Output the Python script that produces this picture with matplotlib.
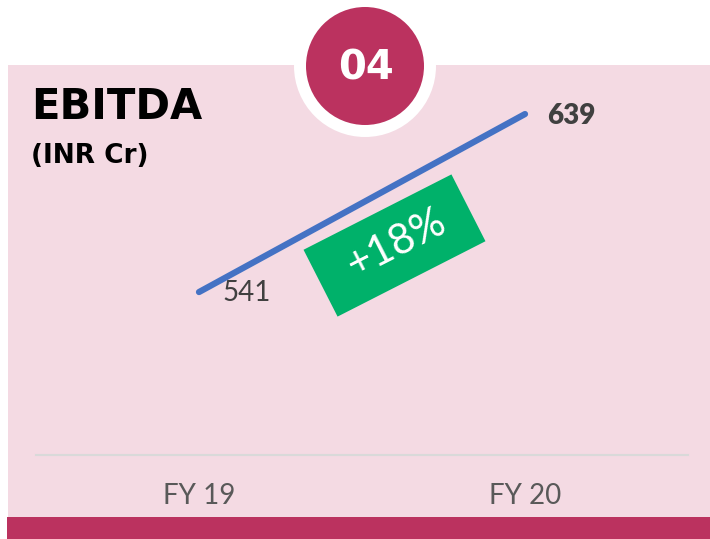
import numpy as np
import matplotlib
matplotlib.use("Agg")
from matplotlib import pyplot as plt
from matplotlib.patches import Rectangle, Circle, Polygon

# ---------- donnees ----------
years = ["FY 19", "FY 20"]
ebitda = [541, 639]
title = "EBITDA"
unit = "(INR Cr)"
badge = "04"

pink = "#F4DAE3"
crimson = "#BB325F"
blue = "#4472C4"
green = "#00B16A"

W, H = 710, 539
fig = plt.figure(figsize=(W / 100, H / 100), dpi=100)
fig.patch.set_facecolor("white")

# ---------- decor en pixels ----------
bg = fig.add_axes([0, 0, 1, 1], zorder=0)
bg.set_xlim(0, W)
bg.set_ylim(H, 0)
bg.axis("off")
bg.add_patch(Rectangle((8, 65), W - 8, 452, color=pink, lw=0))
bg.add_patch(Rectangle((7, 517), W - 7, 22, color=crimson, lw=0))
bg.add_patch(Circle((365, 66), 71, color="white", lw=0))
bg.add_patch(Circle((365, 66), 59, color=crimson, lw=0))
bg.text(366, 68, badge, color="white", fontsize=29, fontweight="bold",
        family="DejaVu Sans", ha="center", va="center")
bg.text(31, 119, title, color="black", fontsize=30, fontweight="bold",
        family="DejaVu Sans", ha="left", va="baseline")
bg.text(31, 163, unit, color="black", fontsize=19, fontweight="bold",
        family="DejaVu Sans", ha="left", va="baseline")

# boite verte tournee
ang = np.deg2rad(27)
c = np.array([394.5, 245.5])
u = np.array([np.cos(ang), -np.sin(ang)])
v = np.array([np.sin(ang), np.cos(ang)])
L, h = 166, 75
corners = [c - L / 2 * u - h / 2 * v, c + L / 2 * u - h / 2 * v,
           c + L / 2 * u + h / 2 * v, c - L / 2 * u + h / 2 * v]
bg.add_patch(Polygon(corners, closed=True, color=green, lw=0))
growth = (ebitda[1] / ebitda[0] - 1) * 100
bg.text(c[0] + 2, c[1] - 2, "+%d%%" % round(growth), color="white", fontsize=30,
        fontweight="normal", family="Lato", rotation=27, rotation_mode="anchor",
        ha="center", va="center")

# ---------- le graphe ----------
ax = fig.add_axes([36 / W, (H - 455) / H, 652 / W, 390 / H], zorder=1)
ax.patch.set_alpha(0)
x = np.arange(len(years))
ax.plot(x, ebitda, color=blue, lw=4.5, solid_capstyle="round")
ax.set_xlim(-0.5, 1.5)
ax.set_ylim(451.3, 666)
for s in ["top", "left", "right"]:
    ax.spines[s].set_visible(False)
ax.spines["bottom"].set_color("#D9D9D9")
ax.spines["bottom"].set_linewidth(1.5)
ax.set_yticks([])
ax.set_xticks(x)
ax.set_xticklabels(years, fontsize=20, color="#595959", family="Lato")
ax.tick_params(axis="x", length=0, pad=20)

ax.annotate(str(ebitda[0]), (x[0], ebitda[0]), xytext=(34.5, -1),
            textcoords="offset points", ha="center", va="center",
            fontsize=20, color="#404040", family="Lato")
ax.annotate(str(ebitda[1]), (x[1], ebitda[1]), xytext=(33, -1.5),
            textcoords="offset points", ha="center", va="center",
            fontsize=20, color="#404040", family="Lato", fontweight="heavy")

fig.savefig("out.png", dpi=100)
